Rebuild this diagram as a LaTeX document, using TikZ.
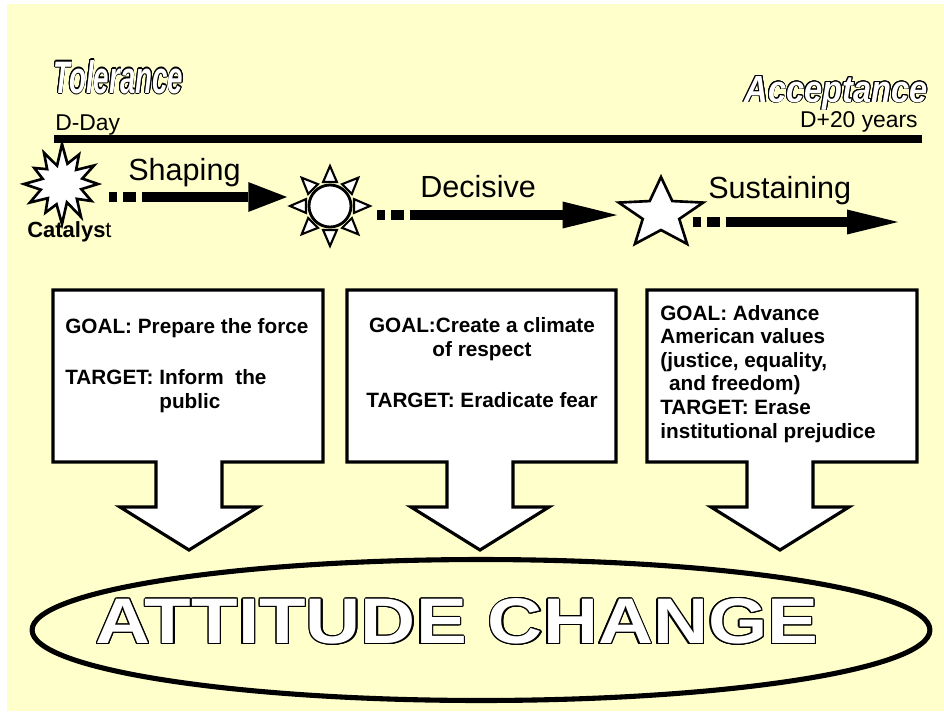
\documentclass[tikz,border=0pt]{standalone}
\usepackage{fontspec}
\setmainfont{Liberation Sans}
\usepackage{graphicx}
\usepackage{contour}
\contourlength{0.6pt}
\usetikzlibrary{arrows.meta,positioning,calc,shapes.geometric}
\definecolor{paleyellow}{RGB}{255,255,204}

% white letters with a black rim, squeezed to a given width and height
\newcommand{\hollow}[3]{\resizebox{#1}{#2}{\color{white}\contour{black}{#3}}}

\begin{document}
\begin{tikzpicture}[x=0.02cm, y=-0.02cm,
        callout/.style={draw, fill=white, line width=1.8pt, line join=miter},
        boxtext/.style={inner sep=0, align=left, font=\fontsize{11.8}{13.4}\selectfont\bfseries},
        phase/.style={line width=6pt, dash pattern=on 4.8pt off 3.4pt on 7pt off 3.4pt on 400pt off 0pt},
        phaselabel/.style={anchor=base west, inner sep=0, font=\fontsize{17.4}{20}\selectfont},
        datelabel/.style={inner sep=0, font=\fontsize{13}{15}\selectfont},
        emblem/.style={draw, fill=white, line width=1.5pt, line join=miter}
    ]
        \useasboundingbox (0,0) rectangle (944,711);
        \fill[paleyellow] (7,4) rectangle (944,711);

        % end points of the road
        \node [anchor=base west, inner sep=0] (tolerance) at (53,93)
            {\hollow{2.6cm}{0.66cm}{\fontsize{26}{30}\selectfont\bfseries\itshape Tolerance}};
        \node [anchor=base east, inner sep=0] (acceptance) at (928,102)
            {\hollow{3.66cm}{0.52cm}{\fontsize{26}{30}\selectfont\bfseries\itshape Acceptance}};
        \node [datelabel, anchor=base west] (dday) at (55,130) {D-Day};
        \node [datelabel, anchor=base east] (dplus) at (918,127) {D+20 years};
        \coordinate (roadstart) at (54,139);
        \coordinate (roadend) at (922,139);
        \draw [line width=4.3pt] (roadstart) -- (roadend);

        % catalyst burst
        \coordinate (catalyst) at (62,184);
        \draw [emblem, shift={(catalyst)}] (0:36)
            \foreach \a/\r in {15/20, 30/34, 45/21, 60/38, 75/19, 90/40, 105/21, 120/33, 135/20,
                150/37, 165/22, 180/38, 195/20, 210/32, 225/21, 240/36, 255/19, 270/40,
                285/21, 300/34, 315/20, 330/37, 345/21} { -- (\a:\r) } -- cycle;
        \node [anchor=base west, inner sep=0, font=\fontsize{12.5}{15}\selectfont] (catalabel)
            at (27,237) {\textbf{Catalys}t};

        % sun
        \node [circle, draw, fill=white, line width=1.6pt, minimum size=23.9pt, inner sep=0] (sun) at (330,206) {};
        \foreach \a in {0,45,...,315}
            \draw [emblem, line width=1.2pt, shift={(sun.center)}] (\a:40) -- (\a+16:25) -- (\a-16:25) -- cycle;

        % star
        \coordinate (star) at (661,214);
        \draw [emblem, shift={(star)}, xscale=1.2] (-90:37)
            \foreach \a/\r in {-54/16, -18/37, 18/16, 54/37, 90/16, 126/37, 162/16, 198/37, 234/16} { -- (\a:\r) } -- cycle;

        % phases
        \coordinate (shapingstart) at (109,197);
        \coordinate (shapingend) at (287,197);
        \coordinate (decisivestart) at (377,215);
        \coordinate (decisiveend) at (617,215);
        \coordinate (sustainstart) at (693,222);
        \coordinate (sustainend) at (898,222);
        \draw [phase, -{Triangle[length=22pt, width=17pt, line width=0pt]}] (shapingstart) -- (shapingend);
        \draw [phase, -{Triangle[length=31pt, width=15.4pt, line width=0pt]}] (decisivestart) -- (decisiveend);
        \draw [phase, -{Triangle[length=29pt, width=14.2pt, line width=0pt]}] (sustainstart) -- (sustainend);
        \node [phaselabel] (shaping) at (128,180) {Shaping};
        \node [phaselabel] (decisive) at (420,197) {Decisive};
        \node [phaselabel] (sustaining) at (708,198) {Sustaining};

        % goal boxes pointing down (text nodes sit on their last line)
        \foreach \l/\r/\c in {53/323/189, 347/616/480, 647/917/780}
            \draw [callout] (\l,290) -- (\r,290) -- (\r,462) -- (\c+33,462) -- (\c+33,507) -- (\c+69,507)
                -- (\c,550) -- (\c-69,507) -- (\c-33,507) -- (\c-33,462) -- (\l,462) -- cycle;
        \node [boxtext, anchor=base west] (goalshaping) at (65,408)
            {GOAL: Prepare the force\\[15.6pt]TARGET: Inform\ \ the\\\phantom{TARGET: }public};
        \node [boxtext, align=center, anchor=base] (goaldecisive) at (482,407)
            {GOAL:Create a climate\\of respect\\[15.6pt]TARGET: Eradicate fear};
        \node [boxtext, anchor=base west] (goalsustaining) at (660,438)
            {GOAL: Advance\\American values\\(justice, equality,\\\hspace*{5pt}and freedom)\\TARGET: Erase\\institutional prejudice};

        % result
        \node [ellipse, draw, line width=2.9pt, minimum width=17.96cm, minimum height=2.82cm] (changering) at (481,630) {};
        \node [inner sep=0] (change) at (457,622)
            {\hollow{14.46cm}{0.9cm}{\fontsize{36}{40}\selectfont\bfseries ATTITUDE CHANGE}};
\end{tikzpicture}
\end{document}
